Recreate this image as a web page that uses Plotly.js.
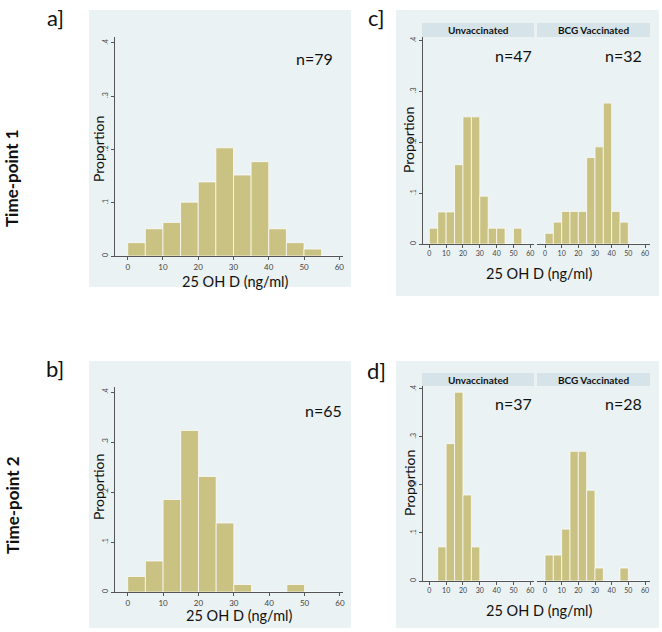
<!DOCTYPE html>
<html>
<head>
<meta charset="utf-8">
<script src="https://cdn.plot.ly/plotly-3.0.1.min.js"></script>
<style>
  html, body { margin: 0; padding: 0; background: #fff; }
  #chart { width: 662px; height: 632px; }
</style>
</head>
<body>
<div id="chart"></div>
<script>
// bins of 5 ng/ml, left edges
const binStarts = [0, 5, 10, 15, 20, 25, 30, 35, 40, 45, 50, 55];

// proportions
const propA      = [0.025, 0.051, 0.063, 0.101, 0.139, 0.203, 0.152, 0.177, 0.051, 0.025, 0.013, 0];
const propB      = [0.031, 0.062, 0.185, 0.323, 0.231, 0.138, 0.015, 0, 0, 0.015, 0, 0];
const propCUnvac = [0.031, 0.063, 0.063, 0.156, 0.250, 0.250, 0.094, 0.031, 0.031, 0, 0.031, 0];
const propCBcg   = [0.021, 0.043, 0.064, 0.064, 0.064, 0.170, 0.191, 0.277, 0.064, 0.043, 0, 0];
const propDUnvac = [0, 0.071, 0.286, 0.393, 0.179, 0.071, 0, 0, 0, 0, 0, 0];
const propDBcg   = [0.054, 0.054, 0.108, 0.270, 0.270, 0.189, 0.027, 0, 0, 0.027, 0, 0];

const xTickVals = [0, 10, 20, 30, 40, 50, 60];
const yTickVals = [0, 0.1, 0.2, 0.3, 0.4];
const yTickText = ["0", ".1", ".2", ".3", ".4"];

const W = 662, H = 632;
const fx = (px) => px / W;
const fy = (py) => 1 - py / H;

const barColor = "#c9c282";
const bgColor = "#eaf2f3";
const stripColor = "#d6e4e9";
const axisColor = "#555";
const font = "Lato, 'Open Sans', sans-serif";

// one panel = one x/y axis pair; pixel box + data range
const panels = [
  { id: "",  data: propA,      x0: 115, x1: 343, y0: 37,  y1: 256, xr: [-3.6, 61.05], yr: [0, 0.411], yline: true, tick: 8 },
  { id: "2", data: propB,      x0: 115, x1: 343, y0: 387, y1: 592, xr: [-3.59, 60.85], yr: [0, 0.41], yline: true, tick: 8 },
  { id: "3", data: propCUnvac, x0: 423, x1: 534, y0: 37,  y1: 244, xr: [-3.74, 62.2], yr: [0, 0.407], yline: true, tick: 7 },
  { id: "4", data: propCBcg,   x0: 537, x1: 650, y0: 37,  y1: 244, xr: [-4.8, 63],    yr: [0, 0.407], yline: false, tick: 7 },
  { id: "5", data: propDUnvac, x0: 423, x1: 534, y0: 386, y1: 581, xr: [-3.74, 62.2], yr: [0, 0.406], yline: true, tick: 7 },
  { id: "6", data: propDBcg,   x0: 537, x1: 650, y0: 386, y1: 581, xr: [-4.8, 63],    yr: [0, 0.406], yline: false, tick: 7 }
];

const traces = [];
const layout = {
  width: W, height: H,
  margin: { l: 0, r: 0, t: 0, b: 0 },
  paper_bgcolor: "#ffffff",
  plot_bgcolor: "#ffffff",
  showlegend: false,
  bargap: 0,
  font: { family: font, color: "#222" },
  shapes: [],
  annotations: []
};

panels.forEach((p) => {
  traces.push({
    type: "bar",
    x: binStarts,
    y: p.data,
    width: 5,
    offset: 0,
    xaxis: "x" + p.id,
    yaxis: "y" + p.id,
    marker: { color: barColor, line: { color: "rgba(255,255,255,0.7)", width: 1 } },
    hoverinfo: "x+y"
  });
  layout["xaxis" + p.id] = {
    domain: [fx(p.x0), fx(p.x1)],
    range: p.xr,
    anchor: "y" + p.id,
    tickvals: xTickVals,
    ticks: "outside", ticklen: 3, tickcolor: axisColor,
    tickfont: { size: p.tick, color: "#444", family: font },
    showline: true, linecolor: axisColor, linewidth: 1,
    showgrid: false, zeroline: false, fixedrange: true
  };
  layout["yaxis" + p.id] = {
    domain: [fy(p.y1), fy(p.y0)],
    range: p.yr,
    anchor: "x" + p.id,
    tickvals: yTickVals,
    ticktext: yTickText,
    tickangle: -90,
    ticks: p.yline ? "outside" : "",
    ticklen: 3, tickcolor: axisColor,
    showticklabels: p.yline,
    tickfont: { size: 7, color: "#444", family: font },
    showline: p.yline, linecolor: axisColor, linewidth: 1,
    showgrid: false, zeroline: false, fixedrange: true
  };
});

// grey panel backgrounds
[[89, 10, 351, 287], [89, 361, 351, 628], [396, 10, 659, 296], [396, 361, 659, 628]].forEach((b) => {
  layout.shapes.push({
    type: "rect", xref: "paper", yref: "paper", layer: "below",
    x0: fx(b[0]), x1: fx(b[2]), y0: fy(b[3]), y1: fy(b[1]),
    fillcolor: bgColor, line: { width: 0 }
  });
});

// strip headers for the by-vaccination panels
const strips = [
  { x0: 422, x1: 534, y0: 23,  y1: 37,  text: "Unvaccinated" },
  { x0: 537, x1: 650, y0: 23,  y1: 37,  text: "BCG Vaccinated" },
  { x0: 422, x1: 534, y0: 373, y1: 386, text: "Unvaccinated" },
  { x0: 537, x1: 650, y0: 373, y1: 386, text: "BCG Vaccinated" }
];
strips.forEach((s) => {
  layout.shapes.push({
    type: "rect", xref: "paper", yref: "paper",
    x0: fx(s.x0), x1: fx(s.x1), y0: fy(s.y1), y1: fy(s.y0),
    fillcolor: stripColor, line: { width: 0 }
  });
  layout.annotations.push({
    xref: "paper", yref: "paper", showarrow: false,
    x: fx((s.x0 + s.x1) / 2), y: fy((s.y0 + s.y1) / 2),
    xanchor: "center", yanchor: "middle",
    text: "<b>" + s.text + "</b>",
    font: { size: 10, color: "#111", family: font }
  });
});

function note(text, x, y, size, opts) {
  layout.annotations.push(Object.assign({
    xref: "paper", yref: "paper", showarrow: false,
    x: fx(x), y: fy(y), xanchor: "center", yanchor: "middle",
    text: text, font: { size: size, color: "#111", family: font }
  }, opts || {}));
}

// sample sizes
note("n=79", 314, 58, 16);
note("n=65", 323, 410, 16);
note("n=47", 513, 55, 16);
note("n=32", 623, 55, 16);
note("n=37", 513, 403, 16);
note("n=28", 623, 403, 16);

// axis titles
note("Proportion", 98, 149, 14, { textangle: -90 });
note("Proportion", 98, 487, 14, { textangle: -90 });
note("Proportion", 409, 140, 14, { textangle: -90 });
note("Proportion", 409, 483, 14, { textangle: -90 });
note("25 OH D (ng/ml)", 235, 282, 14.5);
note("25 OH D (ng/ml)", 239, 615, 14.5);
note("25 OH D (ng/ml)", 539, 273, 14.5);
note("25 OH D (ng/ml)", 539, 610, 14.5);

// panel letters
note("a]", 55, 17, 22);
note("b]", 55, 368, 22);
note("c]", 376, 17, 22);
note("d]", 376, 370, 22);

// row labels
note("<b>Time-point 1</b>", 12, 178, 17, { textangle: -90 });
note("<b>Time-point 2</b>", 12, 505, 17, { textangle: -90 });

Plotly.newPlot("chart", traces, layout, { displayModeBar: false, staticPlot: true });
</script>
</body>
</html>
